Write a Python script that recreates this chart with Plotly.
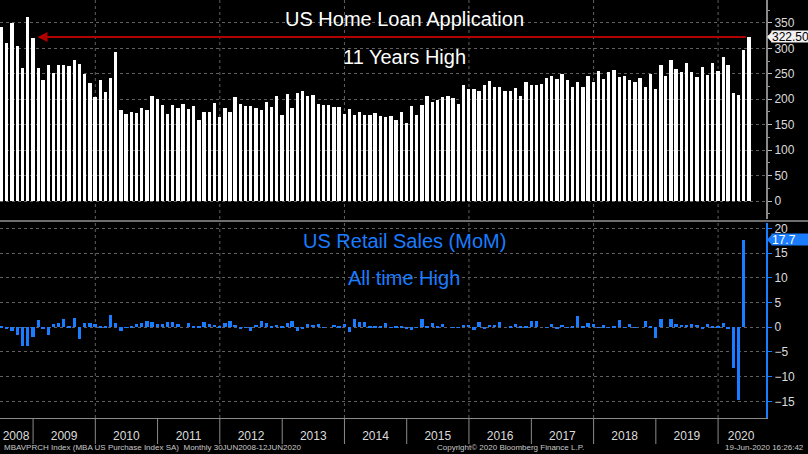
import pandas as pd
import plotly.graph_objects as go

# ---------------- data ----------------
loan_start = "2008-06-30"
loan_values = [
    343, 311, 350, 305, 261, 362, 321, 261, 237, 267,
    252, 267, 267, 265, 277, 270, 250, 232, 205, 238,
    215, 242, 292, 178, 172, 175, 174, 183, 179, 207,
    200, 189, 172, 189, 183, 191, 180, 186, 159, 175,
    175, 193, 165, 182, 175, 205, 191, 186, 186, 183,
    179, 195, 185, 207, 170, 210, 182, 212, 216, 207,
    208, 191, 189, 189, 185, 185, 172, 180, 170, 175,
    170, 170, 174, 168, 166, 168, 159, 175, 153, 187,
    169, 189, 206, 195, 199, 204, 207, 202, 190, 228,
    221, 221, 217, 228, 235, 224, 224, 217, 216, 222,
    207, 234, 228, 229, 231, 241, 246, 239, 250, 237,
    225, 233, 225, 246, 233, 256, 240, 253, 258, 243,
    246, 238, 233, 241, 225, 250, 220, 267, 246, 277,
    260, 254, 271, 254, 243, 264, 248, 271, 256, 284,
    267, 212, 209, 296, 322.5,
]

retail_start = "2008-06-30"
retail_values = [
    0.3, -0.3, -0.7, -1.5, -3.7, -3.7, -2.0, 1.5, -0.3, -1.6,
    0.6, 0.9, 1.7, 0.3, 1.8, -2.3, 0.9, 0.8, 0.6, 0.1,
    0.3, 2.4, 0.8, -0.8, -0.1, 0.3, 0.7, 0.8, 1.2, 1.1,
    0.7, 0.7, 1.0, 1.0, 0.7, 0.0, 0.9, 0.2, 0.3, 1.1,
    0.6, 0.5, 0.1, 0.9, 1.3, 0.5, -0.4, -0.1, -0.7, 0.5,
    1.2, 0.8, 0.3, 0.5, 0.3, 0.9, 1.3, -0.7, -0.4, 0.6,
    0.5, 0.7, -0.1, 0.0, 0.5, 0.3, 0.6, -0.9, 1.6, 1.1,
    1.1, 0.3, 0.3, 0.3, 0.8, -0.1, 0.3, 0.3, -0.4, -0.6,
    -0.1, 1.6, 0.2, 0.8, 0.2, 0.7, 0.0, -0.1, -0.1, 0.5,
    0.5, -0.5, 1.0, -0.3, 0.5, 0.5, 1.1, 0.0, 0.2, 0.7,
    0.3, 0.1, 1.2, 1.3, 0.0, -0.1, 0.6, -0.4, 0.5, -0.1,
    0.3, 2.3, 0.3, 0.9, 0.7, -0.1, 0.4, -0.1, 0.3, 1.4,
    -0.1, 0.6, -0.1, 0.0, 1.3, 0.2, -2.1, 1.7, 0.0, 1.7,
    0.6, 0.5, 0.5, 0.7, 0.5, -0.3, 0.6, 0.1, 0.3, 0.8,
    -0.4, -8.3, -14.7, 17.7,
]

year_labels = ["2008", "2009", "2010", "2011", "2012", "2013", "2014",
               "2015", "2016", "2017", "2018", "2019", "2020"]
year_label_pos = ["2008-09-23"] + [f"{y}-07-02" for y in range(2009, 2020)] + ["2020-05-15"]
year_bounds = [f"{y}-01-01" for y in range(2009, 2021)]
grid_years = [f"{y}-01-01" for y in range(2010, 2021, 2)]

loan_title = "US Home Loan Application"
loan_sub = "11 Years High"
retail_title = "US Retail Sales (MoM)"
retail_sub = "All time High"
loan_last_label = "322.50"
retail_last_label = "17.7"
footer_left = "MBAVPRCH Index (MBA US Purchase Index SA)  Monthly 30JUN2008-12JUN2020"
footer_mid = "Copyright\u00a9 2020 Bloomberg Finance L.P."
footer_right = "19-Jun-2020 16:26:42"

# ---------------- figure ----------------
loan_dates = pd.date_range(loan_start, periods=len(loan_values), freq="ME")
retail_dates = pd.date_range(retail_start, periods=len(retail_values), freq="ME")

BLUE = "#1a7cff"
GRID = "#606060"
W = 766.0
H = 418.0
bar_w = 19.5 * 86400000

fig = go.Figure()
fig.add_trace(go.Bar(x=loan_dates, y=loan_values, width=bar_w,
                     marker=dict(color="#ffffff", line=dict(width=0)),
                     xaxis="x", yaxis="y", showlegend=False))
fig.add_trace(go.Bar(x=retail_dates, y=retail_values, width=bar_w,
                     marker=dict(color=BLUE, line=dict(width=0)),
                     xaxis="x2", yaxis="y2", showlegend=False))

xr = ["2008-06-21", "2020-10-08"]
tickfont = dict(family="Liberation Sans, Arial, sans-serif", size=12, color="#dcdcdc")

shapes = []
for d in grid_years:
    for xa, ya in (("x", "y domain"), ("x2", "y2 domain")):
        shapes.append(dict(type="line", xref=xa, yref=ya, x0=d, x1=d, y0=0, y1=1,
                           line=dict(color=GRID, width=1, dash="dot"), layer="below"))
for d in year_bounds:
    shapes.append(dict(type="line", xref="x2", yref="paper", x0=d, x1=d,
                       y0=0, y1=-26 / H, line=dict(color="#8a8a8a", width=1)))
# panel separator
shapes.append(dict(type="line", xref="paper", yref="paper", x0=0, x1=1.06,
                   y0=1 - 221 / H, y1=1 - 221 / H, line=dict(color="#6e6e6e", width=2)))
# tag notches
shapes.append(dict(type="path", xref="paper", yref="y",
                   path=f"M {1 + 1 / W},{loan_values[-1]} L {1 + 6 / W},{loan_values[-1] + 11} "
                        f"L {1 + 6 / W},{loan_values[-1] - 11} Z",
                   fillcolor="#f2f2f2", line=dict(width=0)))
shapes.append(dict(type="path", xref="paper", yref="y2",
                   path=f"M {1 + 1 / W},{retail_values[-1]} L {1 + 6 / W},{retail_values[-1] + 1.1} "
                        f"L {1 + 6 / W},{retail_values[-1] - 1.1} Z",
                   fillcolor=BLUE, line=dict(width=0)))

title_font = dict(family="Liberation Sans, Arial, sans-serif", size=20)
annotations = [
    dict(text=loan_title, x=404 / W, y=1 - 19 / H, xref="paper", yref="paper",
         yanchor="middle", showarrow=False, font=dict(color="#ffffff", **title_font)),
    dict(text=loan_sub, x=404 / W, y=1 - 57 / H, xref="paper", yref="paper",
         yanchor="middle", showarrow=False, font=dict(color="#ffffff", **title_font)),
    dict(text=retail_title, x=404 / W, y=1 - 241 / H, xref="paper", yref="paper",
         yanchor="middle", showarrow=False, font=dict(color=BLUE, **title_font)),
    dict(text=retail_sub, x=404 / W, y=1 - 278 / H, xref="paper", yref="paper",
         yanchor="middle", showarrow=False, font=dict(color=BLUE, **title_font)),
    # red high line with arrow
    dict(x="2009-01-27", y=loan_values[-1], ax="2020-06-20", ay=loan_values[-1],
         xref="x", yref="y", axref="x", ayref="y", text="", showarrow=True,
         arrowhead=2, arrowsize=1, arrowwidth=2, arrowcolor="#b00000", standoff=0),
    dict(text=loan_last_label, x=1, xref="paper", y=loan_values[-1], yref="y",
         xanchor="left", xshift=5, showarrow=False, bgcolor="#f2f2f2", borderpad=0,
         width=37, height=11, align="left",
         font=dict(family="Liberation Sans, Arial, sans-serif", size=12, color="#000000")),
    dict(text=retail_last_label, x=1, xref="paper", y=retail_values[-1], yref="y2",
         xanchor="left", xshift=5, showarrow=False, bgcolor=BLUE, borderpad=0,
         width=37, height=11, align="left",
         font=dict(family="Liberation Sans, Arial, sans-serif", size=12, color="#ffffff")),
    dict(text=footer_left, x=2 / W, y=-29 / H, xref="paper", yref="paper",
         xanchor="left", yanchor="middle", showarrow=False,
         font=dict(family="Liberation Sans, Arial, sans-serif", size=8, color="#c8c8c8")),
    dict(text=footer_mid, x=511 / W, y=-29 / H, xref="paper", yref="paper",
         xanchor="center", yanchor="middle", showarrow=False,
         font=dict(family="Liberation Sans, Arial, sans-serif", size=8, color="#c8c8c8")),
    dict(text=footer_right, x=806 / W, y=-29 / H, xref="paper", yref="paper",
         xanchor="right", yanchor="middle", showarrow=False,
         font=dict(family="Liberation Sans, Arial, sans-serif", size=8, color="#c8c8c8")),
]

fig.update_layout(
    width=808, height=454,
    margin=dict(l=0, r=42, t=0, b=36),
    paper_bgcolor="#000000", plot_bgcolor="#000000",
    bargap=0, showlegend=False,
    xaxis=dict(domain=[0, 1], anchor="y", type="date", range=xr,
               showticklabels=False, showgrid=False, zeroline=False, ticks=""),
    xaxis2=dict(domain=[0, 1], anchor="y2", type="date", range=xr, matches="x",
                tickmode="array", tickvals=year_label_pos, ticktext=year_labels,
                ticks="", showgrid=False, zeroline=False, tickfont=tickfont,
                showline=True, linecolor="#8a8a8a", linewidth=1, ticklabelstandoff=7),
    yaxis=dict(domain=[1 - 219 / H, 1], anchor="x", side="right",
               range=[-35.4, 395.2], tickmode="linear", tick0=0, dtick=50,
               showgrid=True, gridcolor=GRID, griddash="dot", gridwidth=1,
               zeroline=False, showline=True, linecolor="#8a8a8a", linewidth=2,
               ticks="outside", ticklen=4, tickcolor="#bdbdbd", tickfont=tickfont,
               minor=dict(dtick=25, ticks="outside", ticklen=2, tickcolor="#9a9a9a")),
    yaxis2=dict(domain=[0, 1 - 223 / H], anchor="x2", side="right",
                range=[-18.36, 21.1], tickmode="linear", tick0=0, dtick=5,
                showgrid=True, gridcolor=GRID, griddash="dot", gridwidth=1,
                zeroline=False, showline=True, linecolor=BLUE, linewidth=2,
                ticks="outside", ticklen=4, tickcolor=BLUE, tickfont=tickfont),
    shapes=shapes,
    annotations=annotations,
)

fig.write_html("out.html",
               config={"displayModeBar": False},
               post_script="document.body.style.margin='0';document.body.style.background='#000';")
